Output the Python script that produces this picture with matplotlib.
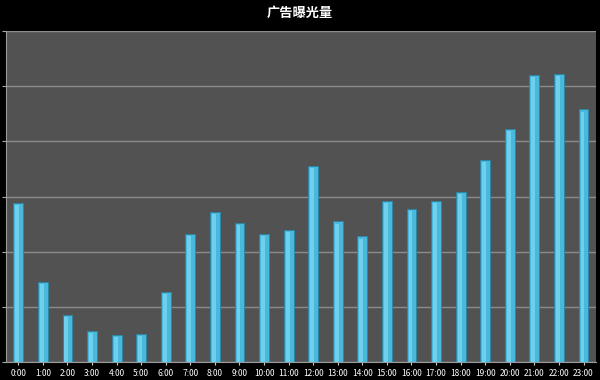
import matplotlib.pyplot as plt
import numpy as np

plt.rcParams["font.family"] = ["Noto Sans CJK SC", "DejaVu Sans"]

TITLE = "广告曝光量"
hours = [f"{h}:00" for h in range(24)]
exposure = [2.89, 1.46, 0.85, 0.56, 0.49, 0.51, 1.27, 2.33, 2.73, 2.53, 2.33, 2.40,
            3.56, 2.55, 2.28, 2.93, 2.78, 2.93, 3.09, 3.67, 4.23, 5.21, 5.23, 4.58]

fig = plt.figure(figsize=(6, 3.8), dpi=100, facecolor="black")
ax = fig.add_axes([0.01, 0.047, 0.983, 0.871])
ax.set_facecolor("#525252")

x = np.arange(len(hours))
ax.bar(x, exposure, width=0.4, color="#48b9dd", edgecolor="#2b86a6", linewidth=0.6, zorder=3)
# lighter highlight inside each bar
ax.bar(x - 0.04, np.array(exposure) - 0.04, width=0.16, color="#6fd0ee", linewidth=0, zorder=4)

ax.set_xlim(-0.5, len(hours) - 0.5)
ax.set_ylim(0, 6)
ax.set_yticks(np.arange(0, 7, 1))
ax.set_yticklabels([])
ax.yaxis.grid(True, color="#8c8c8c", linewidth=1.0, zorder=1)
ax.tick_params(axis="y", length=3, color="#aaaaaa")
ax.set_xticks(x)
ax.set_xticklabels(hours, fontsize=6, color="white")
ax.tick_params(axis="x", length=2, color="#cccccc", pad=3)

for side in ["top", "right"]:
    ax.spines[side].set_visible(False)
ax.spines["left"].set_color("#9a9a9a")
ax.spines["bottom"].set_color("#9a9a9a")

fig.text(0.5, 0.967, TITLE, ha="center", va="center", color="white", fontsize=9.5,
         fontweight="bold")

fig.savefig("out.png", dpi=100, facecolor="black")
